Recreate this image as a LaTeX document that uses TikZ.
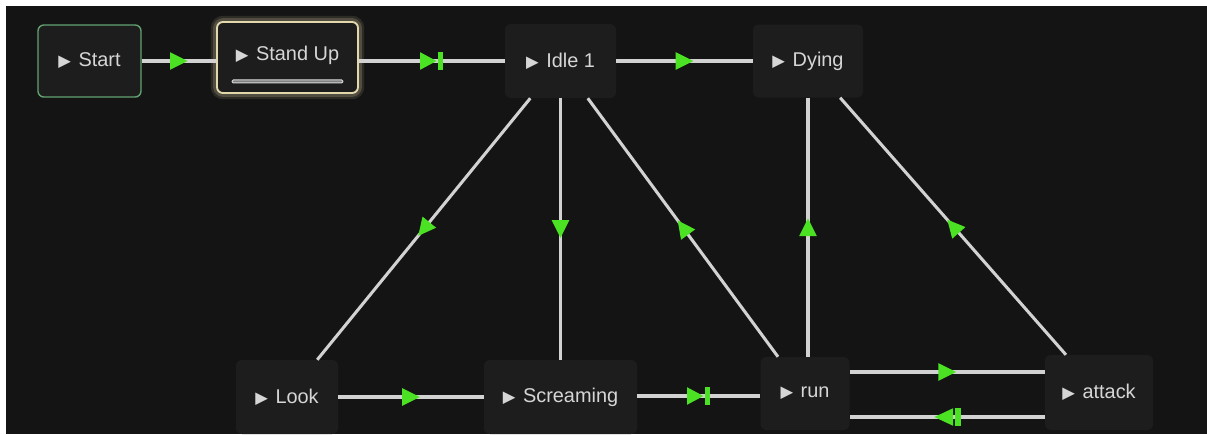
\documentclass[tikz,border=0pt]{standalone}
\usepackage{fontspec}
\setmainfont{Liberation Sans}
\newfontfamily\symfont{DejaVu Sans}
\usetikzlibrary{arrows.meta, decorations.markings, backgrounds, calc}
\definecolor{gridBg}{RGB}{20, 20, 20}
\definecolor{stateFill}{RGB}{29, 29, 29}
\definecolor{stateText}{RGB}{214, 214, 214}
\definecolor{linkGray}{RGB}{210, 210, 210}
\definecolor{linkGreen}{RGB}{74, 226, 34}
\definecolor{entryGreen}{RGB}{98, 162, 112}
\definecolor{activeCream}{RGB}{226, 216, 172}

\newcommand{\stateicon}{{\symfont\fontsize{14}{14}\selectfont ▶}\hspace{6.5pt}}

\begin{document}
\begin{tikzpicture}[
    x=0.03cm, y=-0.03cm,
    font=\fontsize{17}{20}\selectfont,
    state/.style={
        rectangle,
        rounded corners=5pt,
        fill=stateFill,
        text=stateText,
        inner sep=0pt,
        align=center
    },
    link/.style={
        draw=linkGray,
        line width=2.6pt
    },
    midarrow/.style={
        postaction={decorate},
        decoration={markings, mark=at position 0.5 with {
            \fill[linkGreen] (-7.5pt,7.5pt) -- (7.5pt,0pt) -- (-7.5pt,-7.5pt) -- cycle;
        }}
    },
    midarrowstop/.style={
        postaction={decorate},
        decoration={markings, mark=at position 0.5 with {
            \fill[linkGreen] (-10pt,7.5pt) -- (4pt,0pt) -- (-10pt,-7.5pt) -- cycle;
            \fill[linkGreen] (5pt,-7.5pt) rectangle (9.5pt,7.5pt);
        }}
    },
    midarrowtail/.style={
        postaction={decorate},
        decoration={markings, mark=at position 0.5 with {
            \fill[linkGreen] (-5pt,7.5pt) -- (11pt,0pt) -- (-5pt,-7.5pt) -- cycle;
            \fill[linkGreen] (-11.5pt,-7.5pt) rectangle (-7pt,7.5pt);
        }}
    }
]
\useasboundingbox (0,0) rectangle (1207,434);
\clip (0,0) rectangle (1207,434);

\begin{scope}[on background layer]
    \fill[white] (0,0) rectangle (1207,434);
    \fill[gridBg] (6,6) rectangle (1207,434);
\end{scope}

% top row of states
\node[state, draw=entryGreen, line width=1.2pt, minimum width=3.09cm, minimum height=2.16cm] (start) at (89.5,61) {\stateicon Start};
\node[state, draw=activeCream, line width=1.6pt, minimum width=4.23cm, minimum height=2.13cm] (standup) at (287.5,57.5) {};
\node[text=stateText] (standup_label) at (287.5,55.5) {\stateicon Stand Up};
\node[state, minimum width=3.33cm, minimum height=2.22cm] (idle) at (560.5,61) {\stateicon Idle 1};
\node[state, minimum width=3.3cm, minimum height=2.19cm] (dying) at (808,61) {\stateicon Dying};

% bottom row of states
\node[state, minimum width=3.06cm, minimum height=2.22cm] (look) at (287,397) {\stateicon Look};
\node[state, minimum width=4.59cm, minimum height=2.22cm] (screaming) at (560.5,397) {\stateicon Screaming};
\node[state, minimum width=2.67cm, minimum height=2.19cm] (run) at (805,393.5) {\stateicon run};
\node[state, minimum width=3.24cm, minimum height=2.25cm] (attack) at (1099,392.5) {\stateicon attack};

% highlight of the active state
\begin{scope}[on background layer]
    \draw[activeCream, opacity=0.12, line width=9pt, rounded corners=6pt] (standup.south west) rectangle (standup.north east);
    \draw[activeCream, opacity=0.2, line width=5pt, rounded corners=6pt] (standup.south west) rectangle (standup.north east);
\end{scope}
\draw[white!85!black, fill=gray, line width=0.8pt, rounded corners=1pt]
    ($(standup.south west)+(16,-11)$) rectangle ($(standup.south east)+(-16,-14)$);

% ends of the side-by-side transitions
\coordinate (scream_out) at ($(screaming.east)+(0,-1)$);
\coordinate (run_upper) at ($(run.east)+(0,-21.5)$);
\coordinate (run_lower) at ($(run.east)+(0,23.5)$);

% transitions
\draw[link, midarrow] (start.east) -- (start.east -| standup.west);
\draw[link, midarrowstop] (standup.east |- idle) -- (idle.west);
\draw[link, midarrow] (idle) -- (dying);
\draw[link, midarrow] (idle) -- (look);
\draw[link, midarrow] (idle) -- (screaming);
\draw[link, midarrow] (run) -- (idle);
\draw[link, midarrow] (dying.south |- run.north) -- (dying.south);
\draw[link, midarrow] (attack) -- (dying);

\draw[link, midarrow] (look) -- (screaming);
\draw[link, midarrowstop] (scream_out) -- (scream_out -| run.west);
\draw[link, midarrow] (run_upper) -- (run_upper -| attack.west);
\draw[link, midarrowtail] (run_lower -| attack.west) -- (run_lower);

\end{tikzpicture}
\end{document}
